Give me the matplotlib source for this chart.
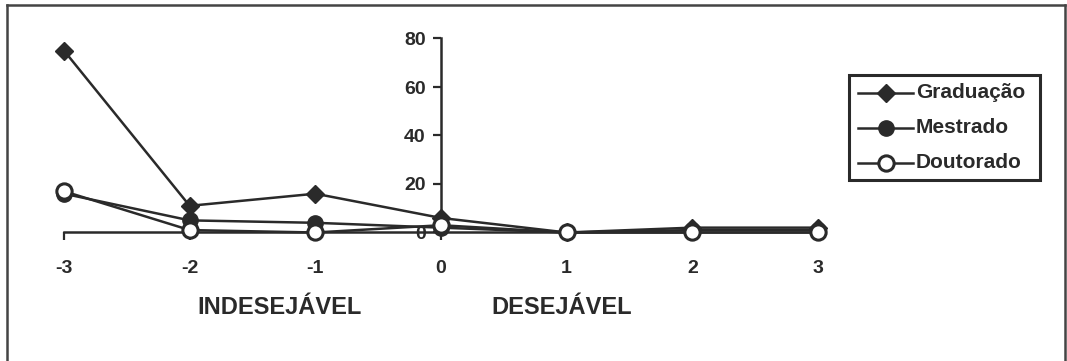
import matplotlib.pyplot as plt
from matplotlib.patches import Rectangle
from matplotlib.lines import Line2D

plt.rcParams['font.family'] = ['Liberation Sans', 'DejaVu Sans']
plt.rcParams['font.weight'] = 'bold'

escala = [-3, -2, -1, 0, 1, 2, 3]
graduacao = [75, 11, 16, 6, 0, 2, 2]
mestrado = [16, 5, 4, 2, 0, 1, 1]
doutorado = [17, 1, 0, 3, 0, 0, 0]
y_ticks = [0, 20, 40, 60, 80]

ink = '#2a2a2a'
W, H = 1067, 361

fig = plt.figure(figsize=(W / 100, H / 100), dpi=100)
# axes placed so that -3..3 and 0..80 land in the right spot of the canvas
x0, x1 = 64, 818
y0, y1 = 232.5, 38.5
ax = fig.add_axes([x0 / W, 1 - y0 / H, (x1 - x0) / W, (y0 - y1) / H])

ax.plot(escala, graduacao, color=ink, lw=1.8, marker='D', ms=9,
        mfc=ink, mec=ink, clip_on=False, zorder=3, label='Graduação')
ax.plot(escala, mestrado, color=ink, lw=1.8, marker='o', ms=11,
        mfc=ink, mec=ink, clip_on=False, zorder=4, label='Mestrado')
ax.plot(escala, doutorado, color=ink, lw=1.8, marker='o', ms=11,
        mfc='white', mec=ink, mew=2.2, clip_on=False, zorder=5, label='Doutorado')

ax.set_xlim(-3, 3)
ax.set_ylim(0, 80)
ax.spines['left'].set_position(('data', 0))
ax.spines['right'].set_visible(False)
ax.spines['top'].set_visible(False)
for s in ('left', 'bottom'):
    ax.spines[s].set_color(ink)
    ax.spines[s].set_linewidth(1.8)
    ax.spines[s].set_zorder(2)

ax.set_xticks(escala)
ax.set_xticklabels([str(v) for v in escala])
ax.set_yticks(y_ticks)
ax.tick_params(axis='x', direction='out', length=6, width=1.6, color=ink,
               pad=14, labelsize=14, labelcolor=ink)
ax.tick_params(axis='y', direction='out', length=6, width=1.6, color=ink,
               pad=5, labelsize=14, labelcolor=ink)
ax.patch.set_alpha(0)

fig.text(280 / W, 1 - 307 / H, 'INDESEJÁVEL', ha='center', va='center',
         fontsize=17, color=ink, fontweight='bold')
fig.text(562 / W, 1 - 307 / H, 'DESEJÁVEL', ha='center', va='center',
         fontsize=17, color=ink, fontweight='bold')

# legend box
lx0, lx1, ly0, ly1 = 849, 1040, 75, 180
fig.add_artist(Rectangle((lx0 / W, 1 - ly1 / H), (lx1 - lx0) / W, (ly1 - ly0) / H,
                         transform=fig.transFigure, fill=False, ec=ink, lw=2.2))
entries = [
    ('Graduação', 'D', 9, ink, 1.0),
    ('Mestrado', 'o', 11, ink, 1.0),
    ('Doutorado', 'o', 11, 'white', 2.2),
]
for i, (name, mk, ms, fc, mew) in enumerate(entries):
    yy = 1 - (93 + i * 35) / H
    fig.add_artist(Line2D([858 / W, 913 / W], [yy, yy], transform=fig.transFigure,
                          color=ink, lw=1.8))
    fig.add_artist(Line2D([885.5 / W], [yy], transform=fig.transFigure, marker=mk,
                          ms=ms, mfc=fc, mec=ink, mew=mew, color=ink))
    fig.text(916 / W, yy, name, ha='left', va='center', fontsize=15,
             color=ink, fontweight='bold')

# outer chart frame (top, left, right)
fx0, fx1, fy0 = 7, 1065, 5
for xs, ys in [([fx0, fx1], [fy0, fy0]), ([fx0, fx0], [fy0, H + 5]), ([fx1, fx1], [fy0, H + 5])]:
    fig.add_artist(Line2D([x / W for x in xs], [1 - y / H for y in ys],
                          transform=fig.transFigure, color='#444444', lw=1.8))

fig.savefig('out.png', dpi=100)
